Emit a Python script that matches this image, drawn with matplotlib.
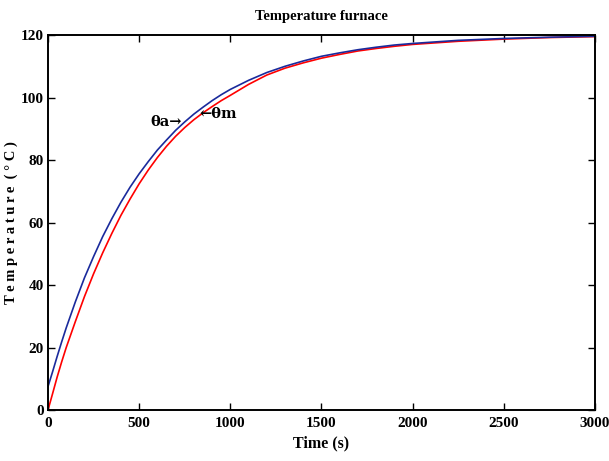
import matplotlib
matplotlib.use("Agg")
import matplotlib.pyplot as plt

# values
time_s = [0, 25, 50, 75, 100, 150, 200, 250, 300, 350, 400, 450, 500, 550,
          600, 650, 700, 750, 800, 850, 900, 950, 1000, 1100, 1200, 1300,
          1400, 1500, 1600, 1700, 1800, 1900, 2000, 2250, 2500, 2750, 3000]
theta_a = [7.5, 12.2, 17.1, 21.8, 26.3, 34.6, 42.3, 49.1, 55.5, 61.2, 66.5,
           71.3, 75.6, 79.5, 83.2, 86.4, 89.5, 92.2, 94.7, 96.9, 99.0, 100.9,
           102.6, 105.5, 108.0, 110.0, 111.7, 113.2, 114.3, 115.3, 116.1,
           116.8, 117.3, 118.3, 118.9, 119.3, 119.6]
theta_m = [0, 5.2, 10.5, 15.4, 20.0, 28.3, 36.3, 43.6, 50.3, 56.5, 62.3,
           67.5, 72.4, 76.8, 80.8, 84.4, 87.6, 90.4, 92.9, 95.1, 97.1, 99.0,
           100.7, 104.2, 107.2, 109.4, 111.1, 112.6, 113.8, 114.9, 115.7,
           116.4, 117.0, 118.0, 118.7, 119.2, 119.5]
x_ticks = [0, 500, 1000, 1500, 2000, 2500, 3000]
y_ticks = [0, 20, 40, 60, 80, 100, 120]

plt.rcParams['font.family'] = ['Liberation Serif', 'DejaVu Serif']
plt.rcParams['font.weight'] = 'bold'

fig = plt.figure(figsize=(6.09, 4.61), dpi=100)
ax = fig.add_axes([0.0788, 0.1106, 0.8982, 0.8134])

ax.plot(time_s, theta_m, color='#ff0000', lw=1.2)
ax.plot(time_s, theta_a, color='#1a2a9c', lw=1.2)

ax.set_xlim(0, 3000)
ax.set_ylim(0, 120)
ax.set_xticks(x_ticks)
ax.set_yticks(y_ticks)
ax.tick_params(direction='in', top=True, right=True, length=5, width=1,
               labelsize=11, pad=5)
ax.tick_params(axis='y', pad=3)
for lab in ax.get_xticklabels() + ax.get_yticklabels():
    lab.set_fontweight('bold')
for sp in ax.spines.values():
    sp.set_linewidth(1.4)

ax.set_title('Temperature furnace', fontsize=10.5, fontweight='bold', pad=11)
ax.set_xlabel('Time (s)', fontsize=11.5, fontweight='bold', labelpad=4)
ax.set_ylabel('T e m p e r a t u r e  ( ° C )', fontsize=10.5,
              fontweight='bold', labelpad=2)

ax.text(560, 92.2, 'θa→', fontsize=10.5, fontweight='bold', ha='left',
        va='center', family='DejaVu Serif')
ax.text(830, 94.6, '←θm', fontsize=10.5, fontweight='bold', ha='left',
        va='center', family='DejaVu Serif')

fig.savefig('out.png', dpi=100)
